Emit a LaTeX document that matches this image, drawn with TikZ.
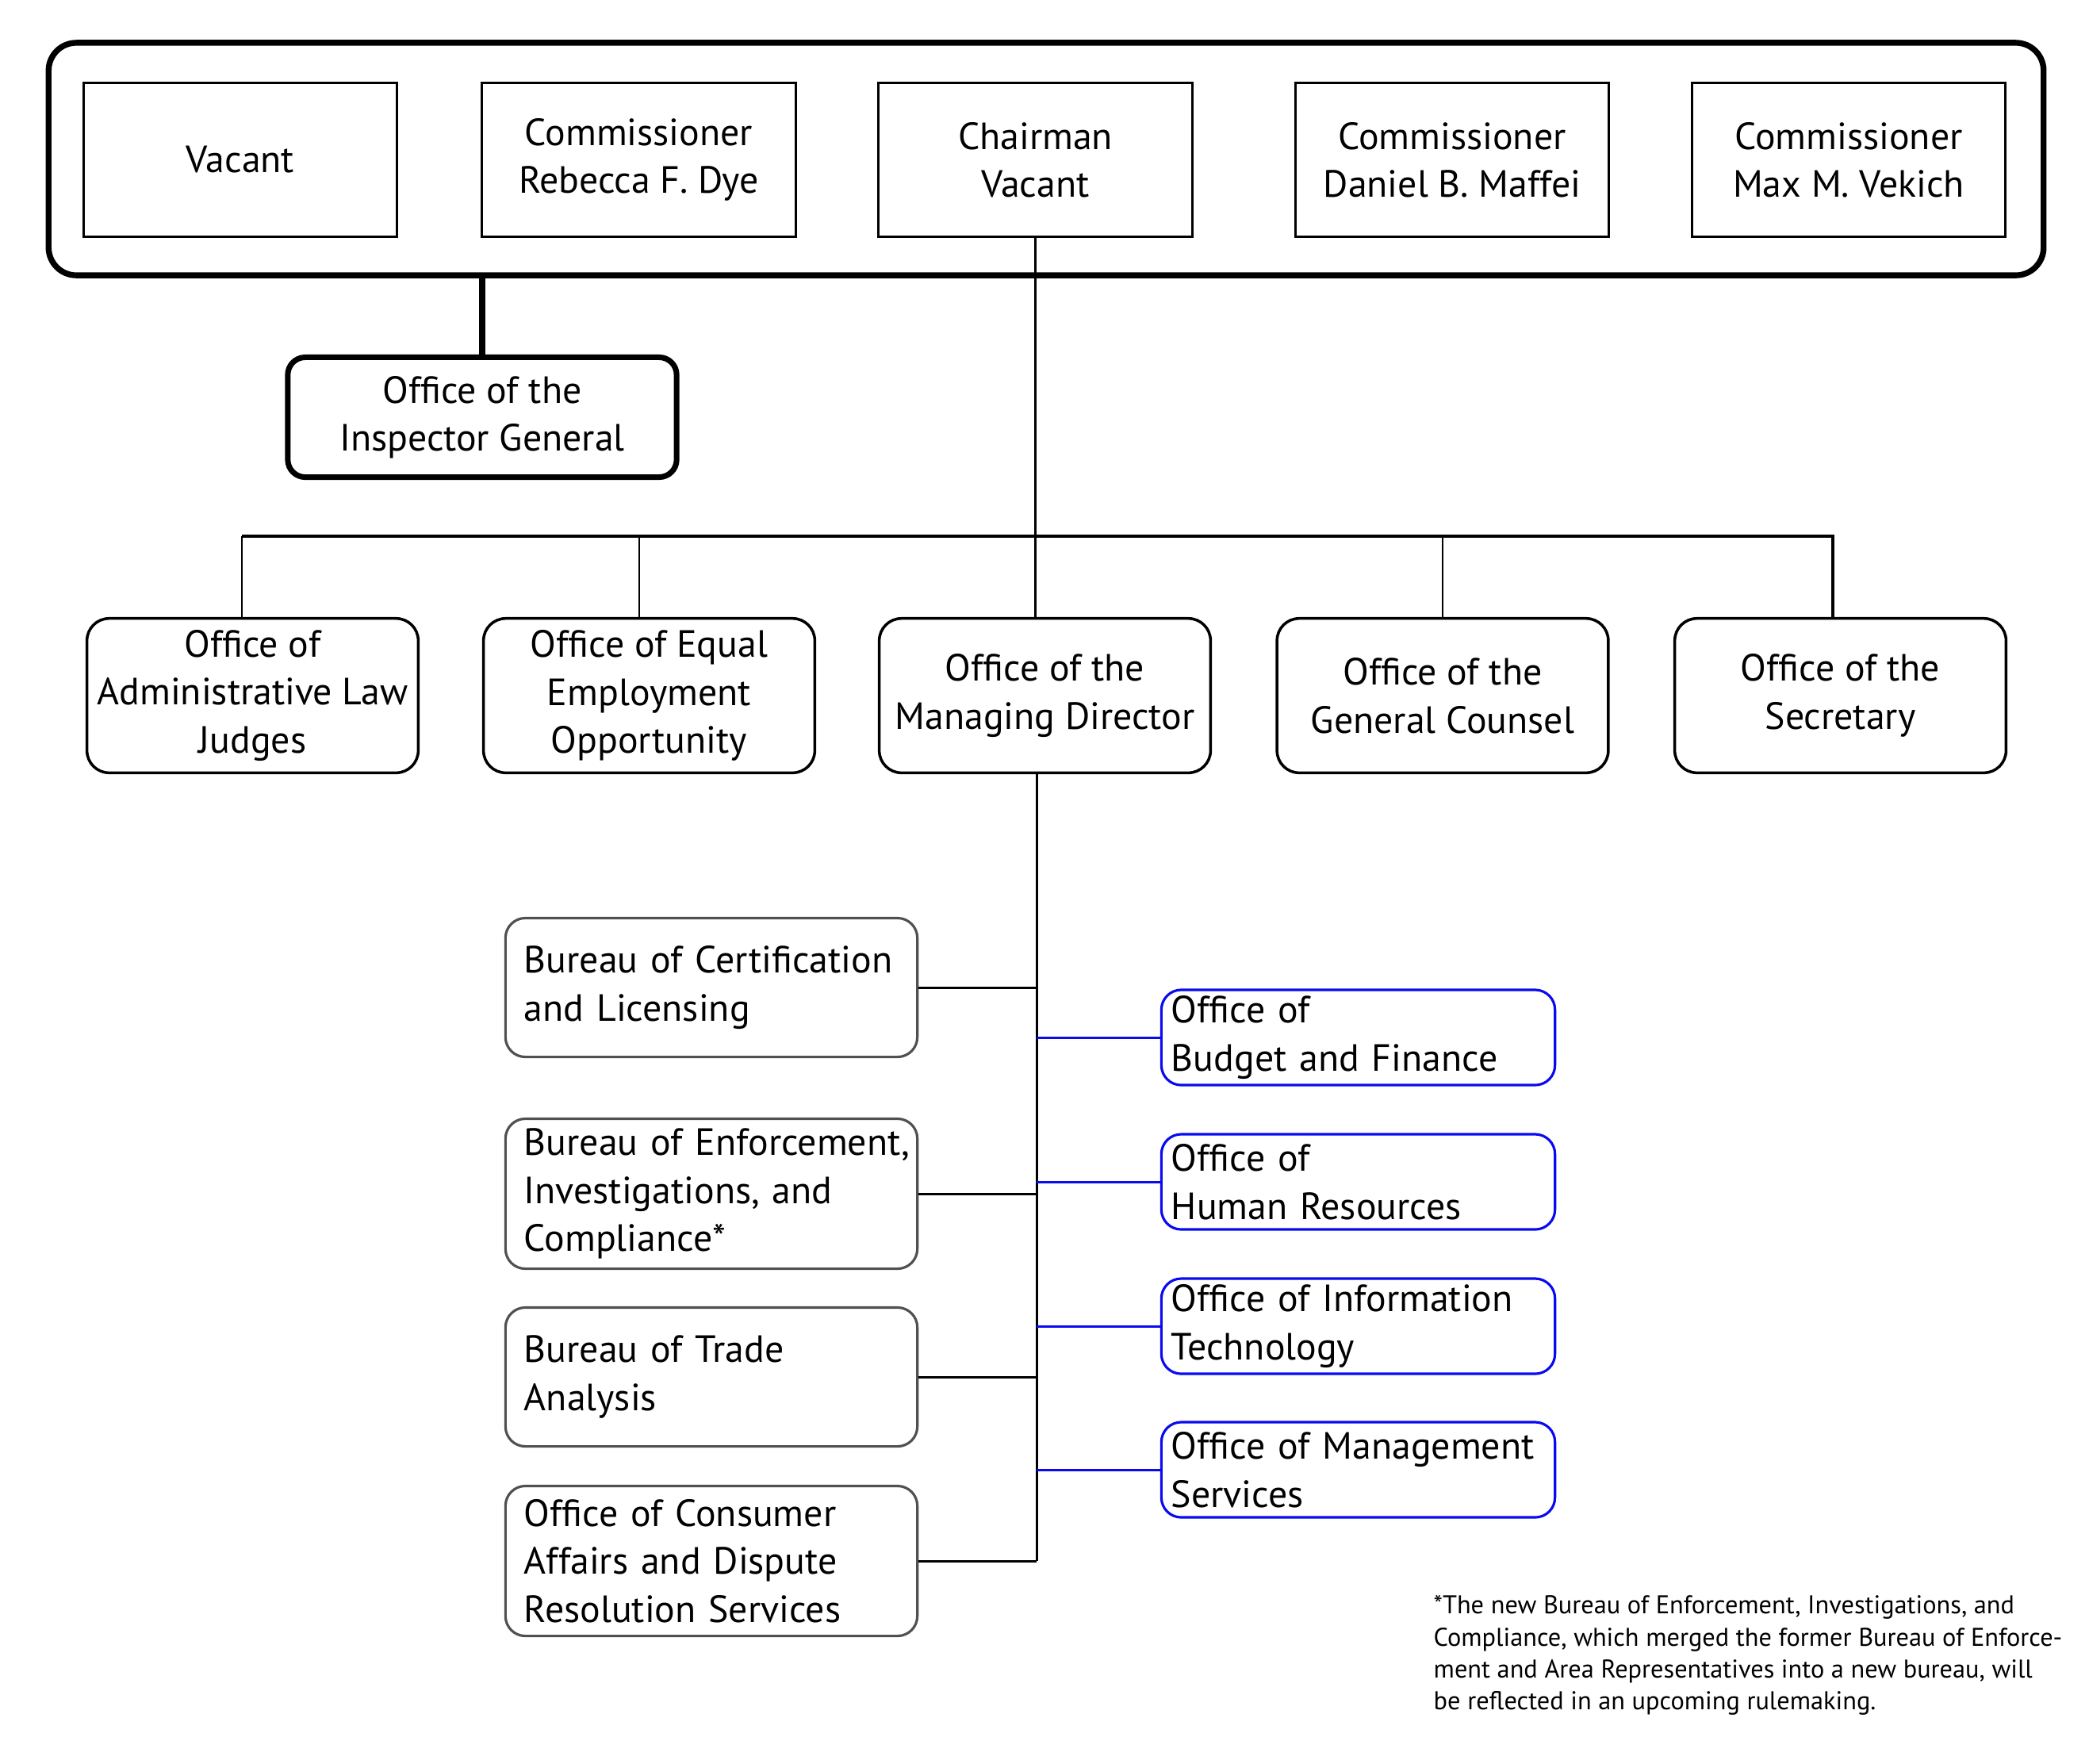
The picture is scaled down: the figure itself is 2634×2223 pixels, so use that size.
\documentclass[tikz,border=0pt]{standalone}
\usepackage{fontspec}
\setmainfont{PT Sans}
\newcommand\mainfs{\fontsize{13.6pt}{17.2pt}\selectfont}
\newcommand\notefs{\fontsize{9.2pt}{11.45pt}\selectfont}
\definecolor{boxgray}{RGB}{80,80,80}
\definecolor{orgblue}{RGB}{10,10,240}
\begin{document}
\begin{tikzpicture}[x=0.01cm,y=-0.01cm,
  board/.style={draw, line width=2.1pt, rounded corners=0.35cm, minimum width=25.14cm, minimum height=2.93cm, inner sep=0pt},
  topbox/.style={draw, line width=0.9pt, minimum width=3.95cm, minimum height=1.94cm, align=center, inner sep=0pt, font=\mainfs},
  igbox/.style={draw, line width=2pt, rounded corners=0.22cm, minimum width=4.9cm, minimum height=1.51cm, align=center, inner sep=0pt, font=\mainfs},
  officebox/.style={draw, line width=1pt, rounded corners=0.28cm, minimum width=4.175cm, minimum height=1.945cm, align=center, inner sep=0pt, font=\mainfs},
  graybox/.style={draw=boxgray, line width=0.9pt, rounded corners=0.25cm, minimum width=5.19cm, inner xsep=0.235cm, inner ysep=0pt, text width=4.72cm, align=left, font=\mainfs},
  bluebox/.style={draw=orgblue, line width=0.9pt, rounded corners=0.25cm, minimum width=4.96cm, minimum height=1.2cm, inner xsep=0.125cm, inner ysep=0pt, text width=4.71cm, align=left, font=\mainfs},
  thinline/.style={draw, line width=0.6pt},
  busline/.style={draw, line width=1.1pt},
  trunkline/.style={draw, line width=0.85pt},
  blueconn/.style={draw=orgblue, line width=0.85pt}
]
\useasboundingbox (0,0) rectangle (2634,2223);

% Commission
\node[board] (board) at (1319,200.5) {};
\node[topbox] (vac) at (303,201.5) {Vacant};
\node[topbox] (dye) at (805.5,201.5) {Commissioner\\Rebecca F. Dye};
\node[topbox] (chair) at (1305.5,201.5) {Chairman\\Vacant};
\node[topbox] (maffei) at (1831,201.5) {Commissioner\\Daniel B. Maffei};
\node[topbox] (vekich) at (2331,201.5) {Commissioner\\Max M. Vekich};

% Inspector General
\node[igbox] (ig) at (608,526) {Office of the\\Inspector General};
\draw[line width=2.1pt] (board.south -| ig.north) -- (ig.north);

% Second row
\node[officebox] (alj) at (318.5,877) {Office of\\Administrative Law\\Judges};
\node[officebox] (eeo) at (818.5,877) {Office of Equal\\Employment\\Opportunity};
\node[officebox] (md) at (1317.5,877) {Office of the\\Managing Director};
\node[officebox] (gc) at (1819,877) {Office of the\\General Counsel};
\node[officebox] (sec) at (2320.5,877) {Office of the\\Secretary};

\coordinate (busalj) at (305,676);
\coordinate (buseeo) at (806,676);
\coordinate (busgc) at (1819,676);
\coordinate (bussec) at (2311,676);
\draw[busline] (busalj) -- (bussec) -- (bussec |- sec.north);
\draw[thinline] (busalj) -- (busalj |- alj.north);
\draw[thinline] (buseeo) -- (buseeo |- eeo.north);
\draw[thinline] (busgc) -- (gc.north);
\draw[thinline] (chair.south) -- (chair.south |- md.north);

% Bureaus
\node[graybox, minimum height=1.75cm] (bcl) at (897,1245) {Bureau of Certification\\and Licensing};
\node[graybox, minimum height=1.89cm] (beic) at (897,1505) {\mbox{Bureau of Enforcement,}\\\mbox{Investigations, and}\\\mbox{Compliance*}};
\node[graybox, minimum height=1.75cm] (bta) at (897,1736) {Bureau of Trade\\Analysis};
\node[graybox, minimum height=1.89cm] (ocadrs) at (897,1968) {Office of Consumer\\Affairs and Dispute\\Resolution Services};

\coordinate (trunktop) at (1307,0 |- md.south);
\draw[trunkline] (trunktop) -- (trunktop |- ocadrs.east);
\draw[trunkline] (bcl.east) -- (bcl.east -| trunktop);
\draw[trunkline] (beic.east) -- (beic.east -| trunktop);
\draw[trunkline] (bta.east) -- (bta.east -| trunktop);
\draw[trunkline] (ocadrs.east) -- (ocadrs.east -| trunktop);

% Offices under MD
\node[bluebox] (obf) at (1712.5,1308) {Office of\\Budget and Finance};
\node[bluebox] (ohr) at (1712.5,1490) {Office of\\Human Resources};
\node[bluebox] (oit) at (1712.5,1672) {Office of Information\\Technology};
\node[bluebox] (oms) at (1712.5,1853) {Office of Management\\Services};
\draw[blueconn] (obf.west -| trunktop) -- (obf.west);
\draw[blueconn] (ohr.west -| trunktop) -- (ohr.west);
\draw[blueconn] (oit.west -| trunktop) -- (oit.west);
\draw[blueconn] (oms.west -| trunktop) -- (oms.west);

% Footnote
\node[anchor=north west, align=left, inner sep=0pt, font=\notefs] (note) at (1807,2011) {*The new Bureau of Enforcement, Investigations, and\\Compliance, which merged the former Bureau of Enforce-\\ment and Area Representatives into a new bureau, will\\be reflected in an upcoming rulemaking.};
\end{tikzpicture}
\end{document}
